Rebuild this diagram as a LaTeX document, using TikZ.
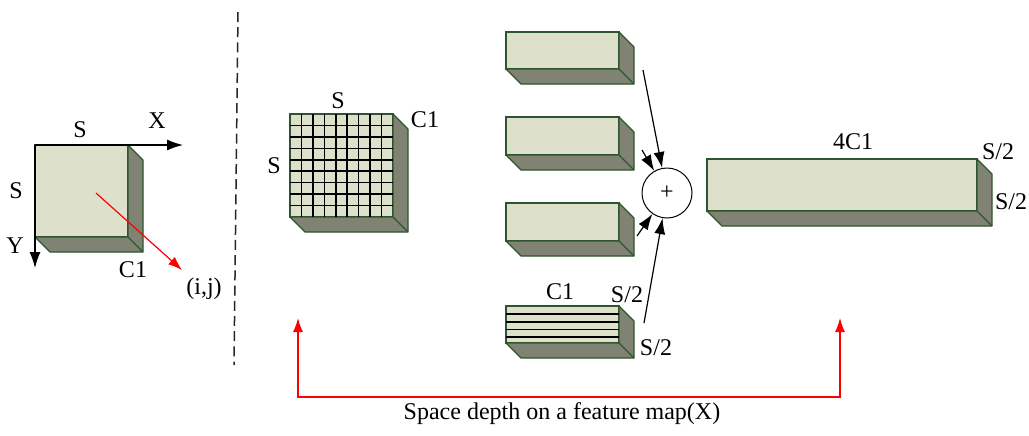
\documentclass[tikz,border=0pt]{standalone}
\usepackage{fontspec}
\setmainfont{Liberation Serif}
\usetikzlibrary{arrows.meta,calc,positioning}
\definecolor{boxfront}{RGB}{221,225,203}
\definecolor{boxside}{RGB}{128,130,116}
\definecolor{boxedge}{RGB}{46,86,46}
\tikzset{
        % Front face of a feature box
        face_front/.style={rectangle, draw=boxedge, fill=boxfront, line width=0.6pt, inner sep=0pt, outer sep=0pt},
        % Side and bottom faces
        face_side/.style={draw=boxedge, fill=boxside, line width=0.6pt, line join=round},
        % Lines on the front faces
        grid_line/.style={black, line width=0.8pt},
        % Text labels
        node_label/.style={inner sep=1pt, font=\fontsize{12}{14}\selectfont},
        % Sum node
        node_sum/.style={circle, draw=black, fill=white, minimum size=25pt, inner sep=0pt, line width=0.5pt, font=\fontsize{12}{12}\selectfont},
        % Arrows
        arrow_black/.style={->, black, line width=0.6pt},
        arrow_red/.style={->, red, line width=0.6pt, >={Latex[length=7pt,width=5pt]}}
}

% box with depth: name, x, y, width, height
\newcommand{\featbox}[5]{%
    \node[face_front, anchor=north west, minimum width=#4*0.5pt, minimum height=#5*0.5pt] (#1) at (#2,#3) {};
    \path[face_side] (#1.north east) -- ++(15,15) -- ($(#1.south east)+(15,15)$)
        -- ($(#1.south west)+(15,15)$) -- (#1.south west) -- (#1.south east) -- cycle;
    \draw[face_side] (#1.south east) -- ++(15,15);
}

\begin{document}
\begin{tikzpicture}[x=0.5pt, y=-0.5pt, >={Latex[length=8pt,width=5.5pt]}]
    \useasboundingbox (0,0) rectangle (1029,435);

    % input map with its axes
    \featbox{input}{35}{145}{93}{92}
    \coordinate (x_end) at (183,145);
    \coordinate (y_end) at (35,268);
    \draw[arrow_black] (input.north west) -- (x_end);
    \draw[arrow_black] (input.north west) -- (y_end);
    \coordinate (pix) at (96,193);
    \coordinate (pix_end) at (182,270);
    \draw[arrow_red] (pix) -- (pix_end);
    \node[node_label] (in_w) at (80,130) {S};
    \node[node_label] (in_h) at (16,191) {S};
    \node[node_label] (in_x) at (157,121) {X};
    \node[node_label] (in_y) at (15,246) {Y};
    \node[node_label] (in_c) at (133,270) {C1};
    \node[node_label] (in_ij) at (204,289) {(i,j)};

    % divider
    \coordinate (div_top) at (238,12);
    \coordinate (div_bot) at (234,365);
    \draw[black!85, line width=0.75pt, dash pattern=on 5pt off 2.6pt] (div_top) -- (div_bot);

    % gridded map
    \featbox{grid}{290}{114}{103}{103}
    \foreach \i in {1,...,8} {
        \draw[grid_line] ($(grid.north west)!\i/9!(grid.north east)$) -- ($(grid.south west)!\i/9!(grid.south east)$);
        \draw[grid_line] ($(grid.north west)!\i/9!(grid.south west)$) -- ($(grid.north east)!\i/9!(grid.south east)$);
    }
    \node[node_label] (grid_w) at (338,101) {S};
    \node[node_label] (grid_h) at (274,166) {S};
    \node[node_label] (grid_c) at (425,120) {C1};

    % four sub-maps
    \featbox{sub1}{506}{32}{113}{37}
    \featbox{sub2}{506}{117}{113}{38}
    \featbox{sub3}{506}{203}{113}{38}
    \featbox{sub4}{506}{306}{113}{37}
    \foreach \f in {0.22,0.44,0.64,0.84} {
        \draw[grid_line] ($(sub4.north west)!\f!(sub4.south west)$) -- ($(sub4.north east)!\f!(sub4.south east)$);
    }
    \node[node_label] (sub_c) at (560,292) {C1};
    \node[node_label] (sub_w) at (627,295) {S/2};
    \node[node_label] (sub_h) at (656,348) {S/2};

    % concatenation
    \node[node_sum] (sum) at (667,193) {+};
    \coordinate (from1) at (643,70);
    \coordinate (from2) at (642,150);
    \coordinate (from3) at (637,236);
    \coordinate (from4) at (644,323);
    \foreach \k in {1,...,4}
        \draw[arrow_black] (from\k) -- (sum);

    % output map
    \featbox{out}{707}{159}{270}{52}
    \node[node_label] (out_c) at (853,142) {4C1};
    \node[node_label] (out_w) at (998,152) {S/2};
    \node[node_label] (out_h) at (1011,202) {S/2};

    % bracket and caption
    \coordinate (tip_left) at (298,318);
    \coordinate (br_left) at (298,397);
    \coordinate (br_right) at (840,397);
    \coordinate (tip_right) at (840,318);
    \draw[arrow_red, <->] (tip_left) -- (br_left) -- (br_right) -- (tip_right);
    \node[node_label] (caption) at (562,414) {Space depth on a feature map(X)};
\end{tikzpicture}
\end{document}
